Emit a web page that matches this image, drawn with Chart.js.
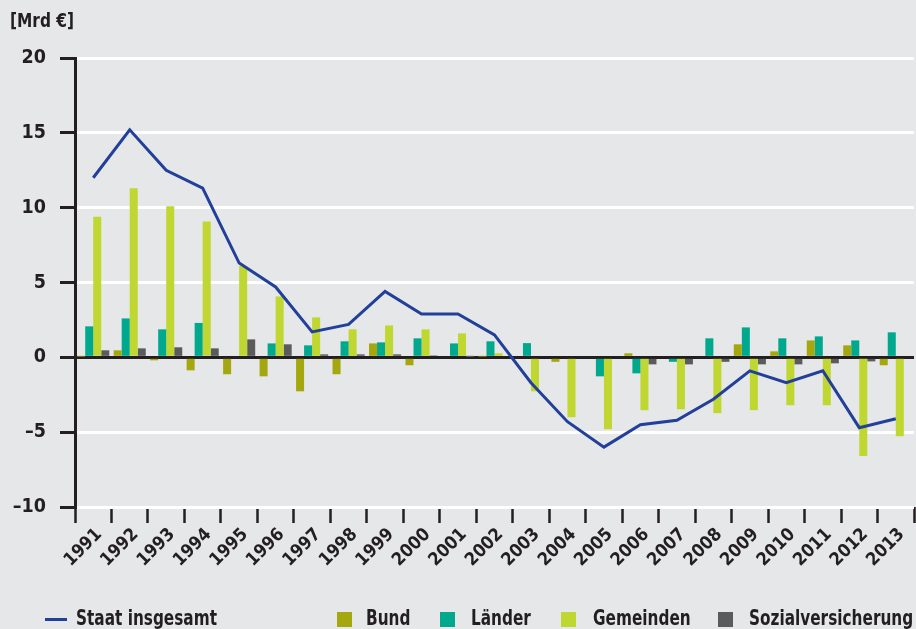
<!DOCTYPE html>
<html>
<head>
<meta charset="utf-8">
<script src="https://cdn.jsdelivr.net/npm/chart.js@4.4.1/dist/chart.umd.min.js"></script>
<style>
  html, body { margin:0; padding:0; background:#e6e7e9; }
  #wrap { position:relative; width:916px; height:629px; background:#e6e7e9; overflow:hidden; }
  canvas { position:absolute; left:0; top:0; }
  .t { position:absolute; font-family:"DejaVu Sans Condensed","Liberation Sans",sans-serif; font-weight:bold; color:#231f20; white-space:nowrap; transform-origin:0 0; }
  #unit { left:10px; top:9px; font-size:19px; transform:scaleX(0.9); }
  .leg { top:607px; font-size:20.5px; line-height:22px; transform:scaleX(0.83); }
  .sw { position:absolute; width:15px; height:15px; top:612px; }
  .ln { position:absolute; width:22px; height:3px; background:#22409a; left:45px; top:618px; }
</style>
</head>
<body>
<div id="wrap">
  <canvas id="c" width="916" height="629"></canvas>
  <div class="t" id="unit">[Mrd €]</div>
  <div class="ln"></div>
  <div class="t leg" style="left:76px;">Staat insgesamt</div>
  <div class="sw" style="left:337px; background:#a5a70f;"></div>
  <div class="t leg" style="left:366px;">Bund</div>
  <div class="sw" style="left:440px; background:#00a88e;"></div>
  <div class="t leg" style="left:471px;">Länder</div>
  <div class="sw" style="left:561px; background:#bfd730;"></div>
  <div class="t leg" style="left:593px;">Gemeinden</div>
  <div class="sw" style="left:718px; background:#5b5b5d;"></div>
  <div class="t leg" style="left:749px;">Sozialversicherung</div>
</div>
<script>
const years = ["1991","1992","1993","1994","1995","1996","1997","1998","1999","2000","2001","2002","2003","2004","2005","2006","2007","2008","2009","2010","2011","2012","2013"];
const staat = [12.0, 15.2, 12.5, 11.3, 6.3, 4.7, 1.7, 2.2, 4.4, 2.9, 2.9, 1.5, -1.7, -4.3, -6.0, -4.5, -4.2, -2.8, -0.9, -1.7, -0.9, -4.7, -4.1];
const bund = [0.05, 0.47, -0.2, -0.87, -1.13, -1.27, -2.27, -1.13, 0.93, -0.53, 0.1, 0.05, 0.0, -0.3, 0.0, 0.27, 0.0, 0.0, 0.87, 0.4, 1.13, 0.8, -0.53];
const laender = [2.07, 2.6, 1.87, 2.3, -0.1, 0.93, 0.8, 1.07, 1.0, 1.27, 0.93, 1.07, 0.95, 0.0, -1.27, -1.07, -0.3, 1.27, 2.0, 1.27, 1.4, 1.13, 1.67];
const gemeinden = [9.4, 11.3, 10.1, 9.07, 6.1, 4.07, 2.67, 1.87, 2.13, 1.87, 1.6, 0.27, -2.27, -4.0, -4.8, -3.53, -3.47, -3.73, -3.53, -3.2, -3.2, -6.6, -5.27];
const sozial = [0.47, 0.6, 0.67, 0.6, 1.2, 0.87, 0.2, 0.2, 0.2, 0.13, 0.03, 0.0, 0.0, 0.0, 0.0, -0.47, -0.47, -0.3, -0.47, -0.47, -0.4, -0.27, -0.1];
const yTicks = [20, 15, 10, 5, 0, -5, -10];

const FONT = '"DejaVu Sans Condensed","Liberation Sans",sans-serif';
const DARK = '#231f20';

new Chart(document.getElementById('c'), {
  type: 'bar',
  data: {
    labels: years,
    datasets: [
      { type:'line', label:'Staat insgesamt', data: staat, borderColor:'#22409a', borderWidth:3, pointRadius:0, fill:false, tension:0, order:0 },
      { label:'Bund', data: bund, backgroundColor:'#a5a70f', order:1 },
      { label:'Länder', data: laender, backgroundColor:'#00a88e', order:1 },
      { label:'Gemeinden', data: gemeinden, backgroundColor:'#bfd730', order:1 },
      { label:'Sozialversicherung', data: sozial, backgroundColor:'#5b5b5d', order:1 }
    ]
  },
  options: {
    responsive:false,
    animation:false,
    devicePixelRatio:1,
    datasets: { bar: { barPercentage:1.0, categoryPercentage:0.88 } },
    layout: { padding: { top:58, right:2, left:0, bottom:0 } },
    plugins: { legend:{ display:false }, tooltip:{ enabled:false } },
    scales: {
      x: {
        offset:true,
        grid: { offset:true, drawOnChartArea:false, drawTicks:true, tickLength:16, tickColor:DARK, tickWidth:2.5 },
        border: { display:false },
        ticks: { color:DARK, font:{ family:FONT, weight:'bold', size:18 }, minRotation:45, maxRotation:45, padding:1, labelOffset:6, autoSkip:false },
        afterFit(s) { s.height = 122; }
      },
      y: {
        min:-10, max:20,
        afterBuildTicks(s) { s.ticks = yTicks.map(v => ({ value:v })); },
        grid: {
          color: c => c.tick && c.tick.value === 0 ? DARK : '#ffffff',
          lineWidth: 3,
          tickColor: DARK, tickWidth: 3, tickLength: 15, drawTicks:true
        },
        border: { display:true, color:DARK, width:3 },
        ticks: { color:DARK, font:{ family:FONT, weight:'bold', size:19.5 }, padding:14, callback: v => v < 0 ? '\u2013' + Math.abs(v) : String(v) },
        afterFit(s) { s.width = 75; }
      }
    }
  }
});
</script>
</body>
</html>
